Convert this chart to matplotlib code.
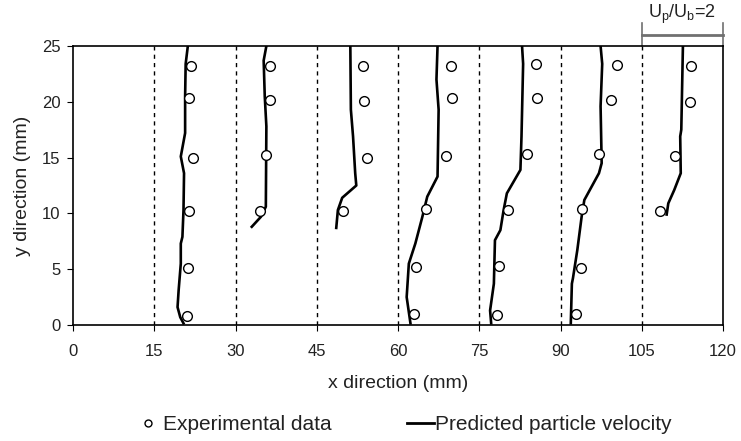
import matplotlib.pyplot as plt
from matplotlib.lines import Line2D

plt.rcParams['font.family'] = ['Liberation Sans', 'DejaVu Sans']

# baselines (dashed) for each profile station
stations = [15, 30, 45, 60, 75, 90, 105]

# predicted particle velocity profiles, plotted in x (mm) vs y (mm)
pred_x = [
    [21.2, 20.8, 20.7, 20.7, 19.9, 20.5, 20.4, 20.2, 19.9, 19.9, 19.5, 19.3, 19.8, 20.4],
    [35.7, 35.2, 35.4, 35.7, 35.6, 34.7, 33.0],
    [51.2, 51.3, 51.7, 52.1, 52.3, 49.7, 48.9, 48.6],
    [67.3, 67.1, 67.5, 67.3, 65.4, 64.5, 63.2, 62.0, 61.6, 62.3],
    [82.9, 83.1, 82.8, 82.6, 80.1, 79.5, 78.9, 77.9, 77.7, 77.0, 77.2],
    [97.4, 97.7, 97.4, 97.6, 97.1, 94.4, 93.9, 93.1, 92.3, 92.1, 91.9],
    [112.6, 112.3, 112.1, 112.2, 111.0, 109.9, 109.6],
]
pred_y = [
    [25.0, 23.4, 20.5, 17.2, 15.1, 13.6, 10.3, 7.9, 7.3, 5.5, 3.1, 1.6, 0.7, 0.15],
    [25.0, 23.7, 20.5, 17.8, 10.6, 9.7, 8.8],
    [25.0, 19.3, 16.9, 13.6, 12.5, 11.4, 10.3, 8.7],
    [25.0, 22.0, 19.3, 13.3, 11.5, 9.7, 7.3, 5.5, 2.5, 0.15],
    [25.0, 23.4, 16.9, 13.9, 11.8, 10.3, 8.5, 7.6, 3.7, 1.3, 0.15],
    [25.0, 23.4, 19.6, 14.5, 13.6, 11.2, 9.7, 6.7, 4.2, 3.7, 0.15],
    [25.0, 17.5, 16.9, 13.6, 12.1, 10.9, 9.9],
]

# experimental data
exp_x = [
    [21.8, 21.5, 22.1, 21.5, 21.3, 21.0],
    [36.3, 36.3, 35.7, 34.6],
    [53.5, 53.8, 54.2, 49.8],
    [69.7, 69.9, 68.8, 65.1, 63.4, 62.9],
    [85.5, 85.7, 83.9, 80.3, 78.7, 78.2],
    [100.4, 99.4, 97.1, 93.9, 93.7, 92.8],
    [114.0, 113.9, 111.1, 108.4],
]
exp_y = [
    [23.2, 20.3, 15.0, 10.2, 5.1, 0.8],
    [23.2, 20.2, 15.2, 10.2],
    [23.2, 20.1, 15.0, 10.2],
    [23.2, 20.3, 15.1, 10.4, 5.2, 1.0],
    [23.4, 20.3, 15.3, 10.3, 5.3, 0.9],
    [23.3, 20.2, 15.3, 10.4, 5.1, 1.0],
    [23.2, 20.0, 15.1, 10.2],
]

fig = plt.figure(figsize=(7.41, 4.41), dpi=100)
ax = fig.add_axes([73 / 741, 1 - 325 / 441, 650 / 741, 279 / 441])

for s in stations:
    ax.axvline(s, color='black', linestyle=(0, (3, 3)), linewidth=1.0)

for xs, ys in zip(pred_x, pred_y):
    ax.plot(xs, ys, color='black', linewidth=1.9)

for xs, ys in zip(exp_x, exp_y):
    ax.plot(xs, ys, linestyle='none', marker='o', markersize=7,
            markerfacecolor='white', markeredgecolor='black', markeredgewidth=1.0)

ax.set_xlim(0, 120)
ax.set_ylim(0, 25)
ax.set_xticks(range(0, 121, 15))
ax.set_yticks(range(0, 26, 5))
ax.tick_params(direction='out', length=4, labelsize=12, colors='black', labelcolor='#222222')
ax.tick_params(axis='x', pad=10)
ax.tick_params(axis='y', pad=5)
for sp in ax.spines.values():
    sp.set_linewidth(1.2)
ax.set_xlabel('x direction (mm)', fontsize=14, labelpad=11, color='#222222')
ax.set_ylabel('y direction (mm)', fontsize=14, labelpad=8, color='#222222')

# scale bar Up/Ub = 2 (15 mm)
bar_col = '#707070'
ax.plot([105, 120], [26.0, 26.0], color=bar_col, linewidth=2.0, clip_on=False)
ax.plot([105, 105], [25, 27.05], color=bar_col, linewidth=1.2, clip_on=False)
ax.plot([120, 120], [25, 27.05], color=bar_col, linewidth=1.2, clip_on=False)
ax.text(112.5, 27.8, r'U$_\mathregular{p}$/U$_\mathregular{b}$=2', ha='center', va='center',
        fontsize=13, color='#222222')

handles = [
    Line2D([], [], linestyle='none', marker='o', markersize=5,
           markerfacecolor='white', markeredgecolor='black'),
    Line2D([], [], color='black', linewidth=2.0),
]
fig.legend(handles, ['Experimental data', 'Predicted particle velocity'],
           loc='center', bbox_to_anchor=(0.544, 0.037), ncol=2, frameon=False,
           fontsize=15, handlelength=1.3, handletextpad=0.05, columnspacing=3.6,
           borderpad=0, labelcolor='#222222')

fig.savefig('out.png', dpi=100)
